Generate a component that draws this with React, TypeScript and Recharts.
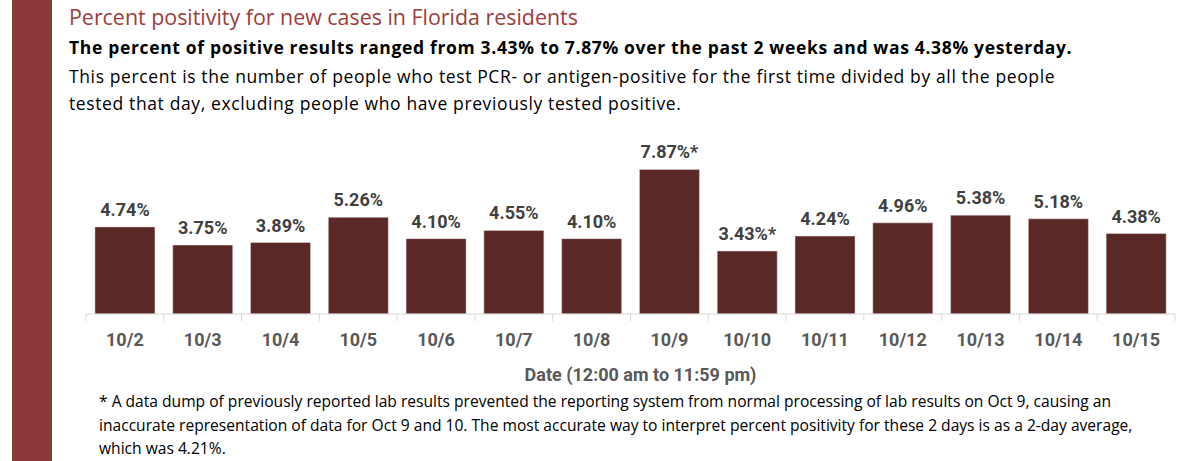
import React from "react";
import { BarChart, Bar, XAxis, YAxis, LabelList } from "recharts";

const dates = ["10/2", "10/3", "10/4", "10/5", "10/6", "10/7", "10/8", "10/9", "10/10", "10/11", "10/12", "10/13", "10/14", "10/15"];
const positivity = [4.74, 3.75, 3.89, 5.26, 4.1, 4.55, 4.1, 7.87, 3.43, 4.24, 4.96, 5.38, 5.18, 4.38];
const flagged = ["10/9", "10/10"];

const data = dates.map((d, i) => ({ date: d, value: positivity[i], flag: flagged.includes(d) }));

const FONT = "Roboto, 'Liberation Sans', Arial, sans-serif";
const BODY = "'Open Sans', 'Liberation Sans', Arial, sans-serif";
const BAND = 1089 / dates.length;

function DateTick(props: any) {
  const { x, y, payload, index } = props;
  const left = x - BAND / 2;
  return (
    <g>
      <line x1={left} x2={left} y1={y - 8} y2={y - 1} stroke="#d9d9d9" />
      {index === dates.length - 1 && (
        <line x1={x + BAND / 2} x2={x + BAND / 2} y1={y - 8} y2={y - 1} stroke="#d9d9d9" />
      )}
      <text x={x} y={y + 24} textAnchor="middle" fill="#595959" fontSize={18} fontWeight={700} fontFamily={FONT}>
        {payload.value}
      </text>
    </g>
  );
}

function ValueLabel(props: any) {
  const { x, y, width, index } = props;
  const row = data[index];
  return (
    <text x={x + width / 2} y={y - 11} textAnchor="middle" fill="#404040" fontSize={18} fontWeight={700} fontFamily={FONT}>
      {row.value.toFixed(2)}%{row.flag ? "*" : ""}
    </text>
  );
}

export default function App() {
  return (
    <div style={{ position: "absolute", left: 0, top: 0, width: 1200, height: 461, background: "#fff", fontFamily: BODY, overflow: "hidden" }}>
      <div style={{ position: "absolute", left: 12, top: 0, width: 40, height: 461, background: "#8b3a3a" }} />
      <div style={{ position: "absolute", left: 69, top: 2, fontSize: 21.4, color: "#9b3d3b", whiteSpace: "nowrap" }}>
        Percent positivity for new cases in Florida residents
      </div>
      <div style={{ position: "absolute", left: 69, top: 35, fontSize: 17.5, fontWeight: 700, letterSpacing: 0.66, color: "#000", whiteSpace: "nowrap" }}>
        The percent of positive results ranged from 3.43% to 7.87% over the past 2 weeks and was 4.38% yesterday.
      </div>
      <div style={{ position: "absolute", left: 69, top: 63, fontSize: 17.5, letterSpacing: 0.62, color: "#000", lineHeight: "27px", whiteSpace: "nowrap" }}>
        This percent is the number of people who test PCR- or antigen-positive for the first time divided by all the people
        <br />
        tested that day, excluding people who have previously tested positive.
      </div>
      <div style={{ position: "absolute", left: 0, top: 0 }}>
        <BarChart width={1200} height={461} data={data} margin={{ top: 167, right: 25, bottom: 87, left: 86 }} barCategoryGap="11.5%">
          <XAxis
            dataKey="date"
            axisLine={{ stroke: "#d9d9d9" }}
            tickLine={false}
            tick={<DateTick />}
            interval={0}
            height={60}
          />
          <YAxis hide domain={[0, 8]} />
          <Bar dataKey="value" fill="#5a2826" stroke="#e8dede" strokeWidth={0.5} isAnimationActive={false}>
            <LabelList dataKey="value" content={<ValueLabel />} />
          </Bar>
        </BarChart>
      </div>
      <div style={{ position: "absolute", left: 0, top: 364, width: 1281, textAlign: "center", fontSize: 18, fontWeight: 700, color: "#595959", fontFamily: FONT }}>
        Date (12:00 am to 11:59 pm)
      </div>
      <div style={{ position: "absolute", left: 99, top: 390, fontSize: 15.6, lineHeight: "23.5px", color: "#000", whiteSpace: "nowrap" }}>
        * A data dump of previously reported lab results prevented the reporting system from normal processing of lab results on Oct 9, causing an
        <br />
        inaccurate representation of data for Oct 9 and 10. The most accurate way to interpret percent positivity for these 2 days is as a 2-day average,
        <br />
        which was 4.21%.
      </div>
    </div>
  );
}
